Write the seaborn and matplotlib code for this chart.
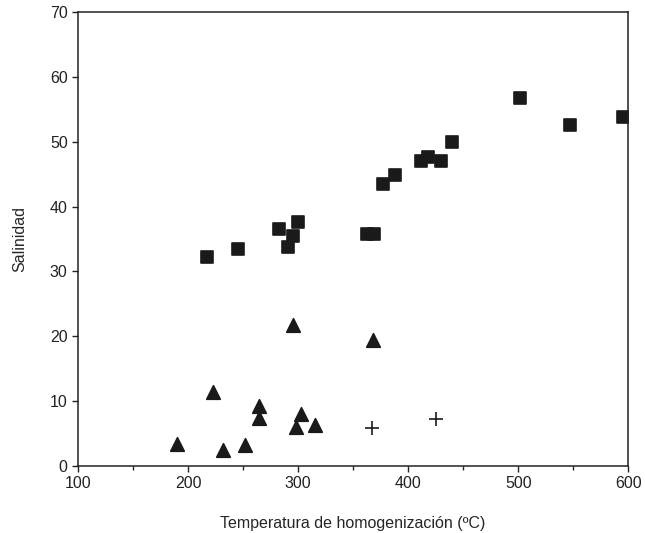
import pandas as pd
import numpy as np
import matplotlib.pyplot as plt
import seaborn as sns

# squares
sq_x = [217, 245, 283, 291, 295, 300, 363, 369, 377, 388, 412, 418, 430, 440, 502, 547, 595]
sq_y = [32.3, 33.4, 36.5, 33.8, 35.5, 37.7, 35.8, 35.8, 43.5, 44.9, 47.1, 47.7, 47.1, 50.0, 56.8, 52.6, 53.8]
# triangles
tr_x = [190, 223, 232, 252, 264, 264, 295, 298, 303, 315, 368]
tr_y = [3.4, 11.4, 2.5, 3.2, 9.2, 7.4, 21.7, 6.0, 8.0, 6.3, 19.4]
# crosses
cr_x = [367, 425]
cr_y = [5.8, 7.2]

df = pd.concat([
    pd.DataFrame({"temp": sq_x, "sal": sq_y, "grupo": "A"}),
    pd.DataFrame({"temp": tr_x, "sal": tr_y, "grupo": "B"}),
    pd.DataFrame({"temp": cr_x, "sal": cr_y, "grupo": "C"}),
])

sns.set_style("ticks")
plt.rcParams["font.family"] = ["Liberation Sans", "DejaVu Sans"]

fig = plt.figure(figsize=(6.45, 5.33), dpi=100)
ax = fig.add_axes([0.121, 0.126, 0.853, 0.851])

markers = {"A": "s", "B": "^", "C": "+"}
sizes = {"A": 80, "B": 95, "C": 110}
for g in ["A", "B", "C"]:
    sub = df[df["grupo"] == g]
    sns.scatterplot(data=sub, x="temp", y="sal", marker=markers[g], s=sizes[g],
                    color="#1a1a1a", edgecolor="#1a1a1a",
                    linewidth=1.2, ax=ax, legend=False)

ax.set_xlim(100, 600)
ax.set_ylim(0, 70)
ax.set_xticks([100, 200, 300, 400, 500, 600])
ax.set_xticks([150, 250, 350, 450, 550], minor=True)
ax.set_yticks([0, 10, 20, 30, 40, 50, 60, 70])
for s in ax.spines.values():
    s.set_visible(True)
    s.set_linewidth(1.1)
    s.set_color("#222222")
ax.tick_params(axis="both", which="major", length=4, width=1, labelsize=11.5, colors="#222222")
ax.tick_params(axis="x", which="minor", length=3, width=1)
ax.set_xlabel("Temperatura de homogenización (ºC)", fontsize=11.5, labelpad=18)
ax.set_ylabel("Salinidad", fontsize=11.5, labelpad=16)

fig.savefig("out.png", dpi=100)
